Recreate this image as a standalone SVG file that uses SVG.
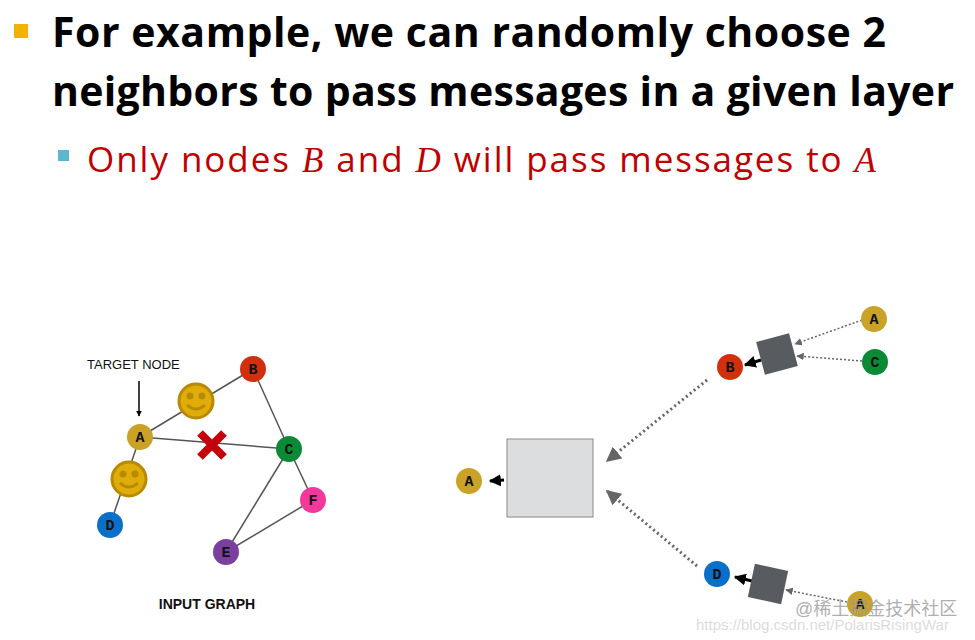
<svg xmlns="http://www.w3.org/2000/svg" width="975" height="640" viewBox="0 0 975 640">
<style>
.t{font-family:"Open Sans","Liberation Sans",sans-serif;font-weight:bold;font-size:41px;fill:#000}
.s{font-family:"Open Sans","Liberation Sans",sans-serif;font-size:35px;fill:#c00000}
.m{font-family:"Liberation Serif",serif;font-style:italic}
.e{stroke:#555;stroke-width:1.5;fill:none}
.d{stroke:#666;stroke-width:3;stroke-dasharray:2 3;fill:none}
.d2{stroke:#666;stroke-width:1.5;stroke-dasharray:2 2;fill:none}
.n text{font-family:"Liberation Mono","DejaVu Sans Mono",monospace;font-weight:bold;font-size:15px;text-anchor:middle;fill:#111}
.sm{fill:#e0ac0a;stroke:#b88a00;stroke-width:3}
.sf{fill:#b88a00}
.sq{fill:#585b60}
</style>
<defs>
<marker id="ah" viewBox="0 0 10 10" refX="9" refY="5" markerWidth="5" markerHeight="5" orient="auto"><path d="M0,0L10,5L0,10z" fill="#666"/></marker>
<marker id="bh" viewBox="0 0 10 10" refX="9" refY="5" markerWidth="4" markerHeight="4" orient="auto"><path d="M0,0L10,5L0,10z" fill="#000"/></marker>
</defs>
<rect x="14" y="24" width="14" height="14" fill="#f0b400"/>
<text class="t" x="52" y="47" textLength="834">For example, we can randomly choose 2</text>
<text class="t" x="52" y="106" textLength="902">neighbors to pass messages in a given layer</text>
<rect x="58" y="150" width="11" height="11" fill="#5bb8d0"/>
<text class="s" x="87" y="172" textLength="789">Only nodes <tspan class="m">B</tspan> and <tspan class="m">D</tspan> will pass messages to <tspan class="m">A</tspan></text>
<g id="connectors">
<line class="e" x1="140" y1="437" x2="253" y2="369"/>
<line class="e" x1="140" y1="437" x2="289" y2="449"/>
<line class="e" x1="140" y1="437" x2="110" y2="525"/>
<line class="e" x1="253" y1="369" x2="289" y2="449"/>
<line class="e" x1="289" y1="449" x2="313" y2="500"/>
<line class="e" x1="289" y1="449" x2="226" y2="552"/>
<line class="e" x1="313" y1="500" x2="226" y2="552"/>
<line x1="139" y1="381" x2="139" y2="416" stroke="#000" stroke-width="1.5" marker-end="url(#bh)"/>
<line class="d" x1="707" y1="380" x2="607" y2="461" marker-end="url(#ah)"/>
<line class="d" x1="697" y1="566" x2="607" y2="491" marker-end="url(#ah)"/>
<line class="d2" x1="862" y1="320" x2="795" y2="344" marker-end="url(#ah)"/>
<line class="d2" x1="862" y1="361" x2="797" y2="356" marker-end="url(#ah)"/>
<line class="d2" x1="847" y1="602" x2="786" y2="590" marker-end="url(#ah)"/>
<line x1="761" y1="360" x2="745" y2="365" stroke="#000" stroke-width="3" marker-end="url(#bh)"/>
<line x1="752" y1="581" x2="735" y2="577" stroke="#000" stroke-width="3" marker-end="url(#bh)"/>
<line x1="504" y1="480" x2="490" y2="481" stroke="#000" stroke-width="3" marker-end="url(#bh)"/>
</g>
<g id="smiley1"><circle class="sm" cx="196" cy="401" r="17"/><circle class="sf" cx="190" cy="396" r="3.5"/><circle class="sf" cx="202" cy="396" r="3.5"/><path d="M187,405 Q196,413 205,405" stroke="#b88a00" stroke-width="3" fill="none"/></g>
<g id="smiley2"><circle class="sm" cx="129" cy="479" r="17"/><circle class="sf" cx="123" cy="474" r="3.5"/><circle class="sf" cx="135" cy="474" r="3.5"/><path d="M120,483 Q129,491 138,483" stroke="#b88a00" stroke-width="3" fill="none"/></g>
<g id="cross"><path d="M200,433 L224,457 M224,433 L200,457" stroke="#c4000a" stroke-width="8"/></g>
<text x="87" y="369" font-family="Liberation Sans,sans-serif" font-size="13" fill="#111">TARGET NODE</text>
<g id="nA" class="n"><circle cx="140" cy="437" r="13" fill="#c9a227"/><text x="140" y="442">A</text></g>
<g id="nB" class="n"><circle cx="253" cy="369" r="13" fill="#d22f0d"/><text x="253" y="374">B</text></g>
<g id="nC" class="n"><circle cx="289" cy="449" r="13" fill="#0a8a35"/><text x="289" y="454">C</text></g>
<g id="nF" class="n"><circle cx="313" cy="500" r="13" fill="#f0399a"/><text x="313" y="505">F</text></g>
<g id="nE" class="n"><circle cx="226" cy="552" r="13" fill="#7b3f9e"/><text x="226" y="557">E</text></g>
<g id="nD" class="n"><circle cx="110" cy="525" r="13" fill="#0a6fc9"/><text x="110" y="530">D</text></g>
<text x="207" y="609" font-family="Liberation Sans,sans-serif" font-weight="bold" font-size="14" text-anchor="middle" fill="#111">INPUT GRAPH</text>
<g id="agg"><rect x="507" y="439" width="86" height="78" fill="#dcdddf" stroke="#888"/></g>
<g id="sqB"><rect x="760" y="337" width="34" height="34" class="sq" transform="rotate(-15 777 354)"/></g>
<g id="sqD"><rect x="751" y="567" width="34" height="34" class="sq" transform="rotate(12 768 584)"/></g>
<g id="rA" class="n"><circle cx="469" cy="481" r="13" fill="#c9a227"/><text x="469" y="486">A</text></g>
<g id="rB" class="n"><circle cx="730" cy="367" r="13" fill="#d22f0d"/><text x="730" y="372">B</text></g>
<g id="rD" class="n"><circle cx="717" cy="574" r="13" fill="#0a6fc9"/><text x="717" y="579">D</text></g>
<g id="rA1" class="n"><circle cx="874" cy="319" r="13" fill="#c9a227"/><text x="874" y="324">A</text></g>
<g id="rC" class="n"><circle cx="875" cy="362" r="13" fill="#0a8a35"/><text x="875" y="367">C</text></g>
<g id="rA2" class="n"><circle cx="860" cy="604" r="13" fill="#c9a227"/><text x="860" y="609">A</text></g>
<text x="795" y="615" font-family="Liberation Sans,Noto Sans CJK SC,sans-serif" font-size="18" fill="#999" fill-opacity="0.8">@稀土掘金技术社区</text>
<text x="696" y="630" font-family="Liberation Sans,sans-serif" font-size="15" fill="#ccc" fill-opacity="0.7">https://blog.csdn.net/PolarisRisingWar</text>
</svg>
